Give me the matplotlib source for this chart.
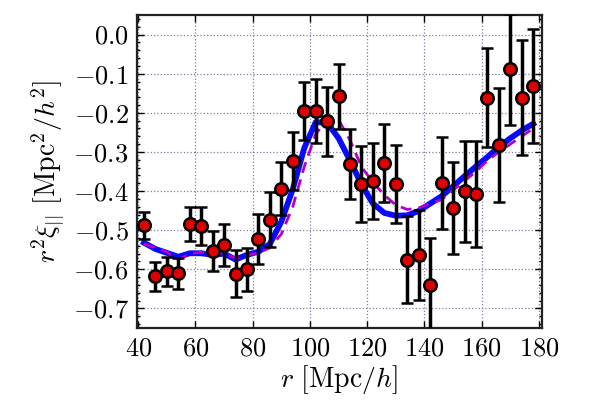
import matplotlib
matplotlib.use("Agg")
import matplotlib.pyplot as plt
from matplotlib.ticker import MultipleLocator

plt.rcParams['font.family'] = 'serif'
plt.rcParams['font.serif'] = ['cmr10', 'DejaVu Serif']
plt.rcParams['mathtext.fontset'] = 'cm'
plt.rcParams['axes.formatter.use_mathtext'] = True

# separations
r = [42, 46, 50, 54, 58, 62, 66, 70, 74, 78, 82, 86, 90, 94, 98, 102, 106, 110,
     114, 118, 122, 126, 130, 134, 138, 142, 146, 150, 154, 158, 162, 166, 170,
     174, 178]

# measured r^2 xi_par and errors
xi_data = [-0.488, -0.618, -0.605, -0.610, -0.485, -0.490, -0.553, -0.538,
           -0.611, -0.600, -0.523, -0.473, -0.394, -0.323, -0.196, -0.196,
           -0.222, -0.158, -0.331, -0.383, -0.374, -0.328, -0.381, -0.575,
           -0.563, -0.640, -0.380, -0.443, -0.401, -0.408, -0.161, -0.282,
           -0.089, -0.162, -0.132]
xi_err = [0.034, 0.037, 0.037, 0.040, 0.043, 0.048, 0.051, 0.054, 0.060,
          0.055, 0.064, 0.070, 0.068, 0.075, 0.074, 0.082, 0.088, 0.083,
          0.090, 0.097, 0.097, 0.100, 0.100, 0.110, 0.115, 0.120, 0.117,
          0.118, 0.128, 0.135, 0.127, 0.146, 0.141, 0.147, 0.146]

# best-fit model (solid) and comparison model (dashed)
xi_fit = [-0.532, -0.548, -0.558, -0.568, -0.559, -0.559, -0.563, -0.560,
          -0.575, -0.563, -0.555, -0.535, -0.478, -0.395, -0.290, -0.224,
          -0.225, -0.265, -0.322, -0.383, -0.432, -0.456, -0.463, -0.462,
          -0.451, -0.432, -0.413, -0.388, -0.362, -0.337, -0.313, -0.287,
          -0.265, -0.245, -0.228]
xi_alt = [-0.535, -0.545, -0.556, -0.575, -0.561, -0.556, -0.559, -0.559,
          -0.572, -0.564, -0.558, -0.545, -0.510, -0.440, -0.338, -0.255,
          -0.216, -0.218, -0.270, -0.338, -0.378, -0.410, -0.436, -0.447,
          -0.443, -0.432, -0.422, -0.398, -0.374, -0.350, -0.322, -0.300,
          -0.280, -0.260, -0.240]

fig = plt.figure(figsize=(6, 4), dpi=100)
ax = fig.add_axes([0.228, 0.18, 0.675, 0.7825])

ax.plot(r, xi_fit, color='#0a0aff', lw=4.2, solid_joinstyle='round', zorder=3)
ax.plot(r, xi_alt, color='#b400c8', lw=2, ls=(0, (4, 2.5)), zorder=4)
ax.errorbar(r, xi_data, yerr=xi_err, fmt='o', color='k', mfc='#e00000',
            mec='k', mew=1.8, ms=9, elinewidth=2.5, capsize=4, capthick=2.5,
            zorder=5)

ax.set_xlim(39.5, 181)
ax.set_ylim(-0.75, 0.05)
ax.xaxis.set_major_locator(MultipleLocator(20))
ax.yaxis.set_major_locator(MultipleLocator(0.1))
ax.yaxis.set_minor_locator(MultipleLocator(0.02))
ax.yaxis.set_major_formatter(plt.FuncFormatter(
    lambda v, p: '$%.1f$' % v if abs(v) > 1e-9 else '$0.0$'))
ax.xaxis.set_major_formatter(plt.FuncFormatter(lambda v, p: '$%d$' % v))

ax.grid(True, which='major', color='#8080a0', ls=':', lw=0.9)
ax.tick_params(which='both', direction='in', top=True, right=True,
               labelsize=19, width=1)
ax.tick_params(which='major', length=5, pad=6)
ax.tick_params(which='minor', length=2.5)
for s in ax.spines.values():
    s.set_linewidth(1.6)
    s.set_color('#222222')

ax.set_xlabel(r'$r\ [\mathrm{Mpc}/h]$', fontsize=20, labelpad=2)
ax.set_ylabel(r'$r^2\xi_{||}\ [\mathrm{Mpc}^2/h^2]$', fontsize=20, labelpad=5)

fig.savefig('out.png', dpi=100)
